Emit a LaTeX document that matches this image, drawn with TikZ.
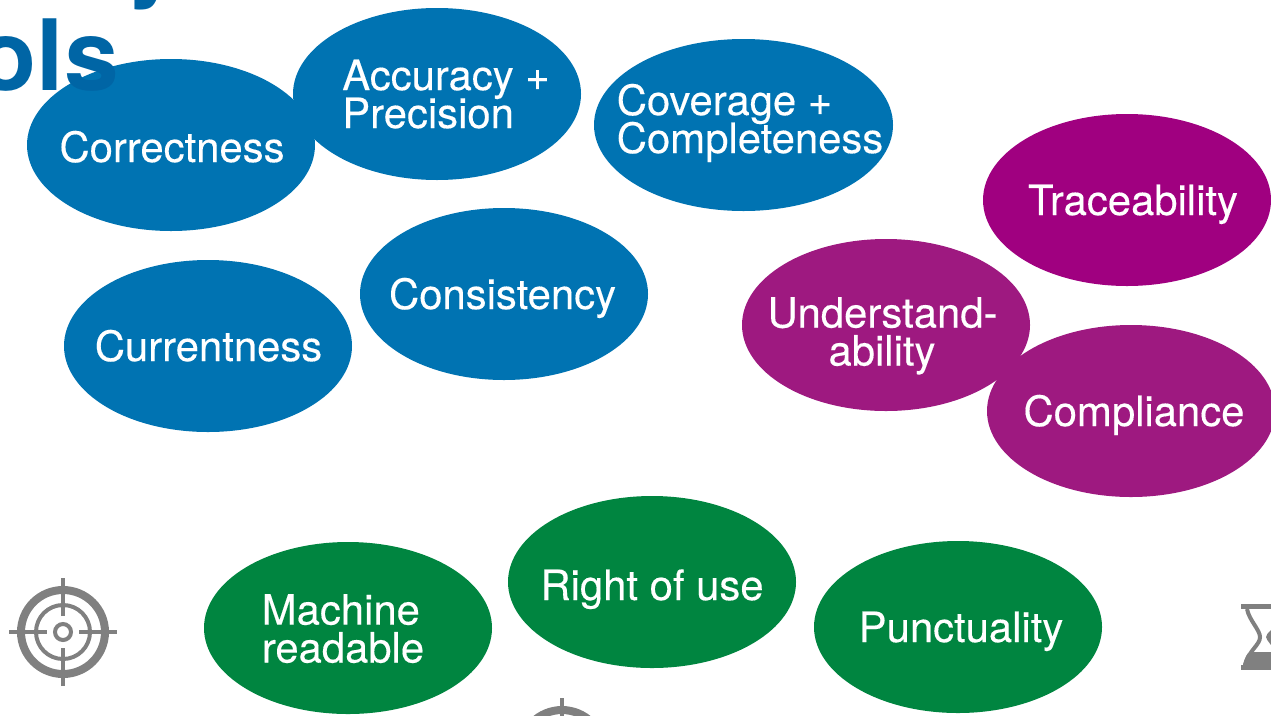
\documentclass[tikz,border=0pt]{standalone}
\usepackage{fontspec}
\setmainfont{TeX Gyre Heros}
\newfontfamily\goalfont[FakeBold=0.25]{TeX Gyre Heros}
\usetikzlibrary{shapes.geometric}
\definecolor{goalblue}{RGB}{0,115,178}
\definecolor{titleblue}{RGB}{0,101,165}
\definecolor{goalpurple}{RGB}{158,25,128}
\definecolor{tracepurple}{RGB}{160,0,128}
\definecolor{goalgreen}{RGB}{0,133,64}
\definecolor{icongrey}{RGB}{128,128,128}
\newcommand{\goaltextstyle}{\goalfont\fontsize{11.9}{10.8}\selectfont\lineskiplimit=-10pt\relax}
\tikzset{
  goal/.style={ellipse,minimum width=2.88cm,minimum height=1.72cm,inner xsep=-0.6cm,inner ysep=0pt,
    text=white,align=left,text height=0.3cm,text depth=0pt,font=\goaltextstyle},
  twolines/.style={text height=0.56cm},
  titletext/.style={anchor=base west,inner sep=0pt,text=titleblue,font=\fontsize{28}{28}\selectfont\bfseries},
  target/.pic={
    \draw[icongrey,line width=0.08cm] (0,0) circle (0.42);
    \draw[icongrey,line width=0.04cm] (0,0) circle (0.27);
    \draw[icongrey,line width=0.04cm] (0,0) circle (0.08);
    \draw[icongrey,line width=0.04cm] (-0.54,0) -- (-0.16,0);
    \draw[icongrey,line width=0.04cm] (0.16,0) -- (0.54,0);
    \draw[icongrey,line width=0.04cm] (0,-0.54) -- (0,-0.16);
    \draw[icongrey,line width=0.04cm] (0,0.16) -- (0,0.54);
  }
}
\begin{document}
\begin{tikzpicture}
\clip (0,0) rectangle (12.71,7.15);
% blue
\node[goal,text height=0.34cm,fill=goalblue] (correctness) at (1.71,5.70) {\hspace*{0.02cm}Correctness};
\node[goal,text height=0.68cm,fill=goalblue] (accuracy) at (4.37,6.21) {\hspace*{0.18cm}Accuracy +\\\hspace*{0.18cm}Precision};
\node[goal,twolines,minimum width=2.99cm,fill=goalblue] (coverage) at (7.435,5.90) {\hspace*{0.13cm}Coverage +\\\hspace*{0.13cm}Completeness};
\node[goal,fill=goalblue] (currentness) at (2.08,3.69) {\hspace*{0.01cm}Currentness};
\node[goal,fill=goalblue] (consistency) at (5.04,4.21) {Consistency\hspace*{0.03cm}};
% purple
\node[goal,fill=tracepurple] (traceability) at (11.27,5.15) {\hspace*{0.12cm}Traceability};
\node[goal,fill=goalpurple] (compliance) at (11.31,3.04) {\hspace*{0.06cm}Compliance};
\node[goal,text height=0.81cm,fill=goalpurple,align=center] (understand) at (8.86,3.90) {Understand-\hspace*{0.07cm}\\ability\hspace*{0.08cm}};
% green
\node[goal,text height=0.69cm,fill=goalgreen] (machine) at (3.48,0.87) {Machine\\readable\hspace*{0.1cm}};
\node[goal,text height=0.36cm,fill=goalgreen] (rightofuse) at (6.52,1.33) {Right of use};
\node[goal,fill=goalgreen] (punctuality) at (9.58,0.88) {\hspace*{0.06cm}Punctuality};
% title
\node[titletext] (titleend) at (-0.24,6.25) {ols};
\node[titletext] (titleline) at (1.26,7.27) {y};
% icons
\pic at (0.63,0.83) {target};
\pic at (5.62,-0.37) {target};
\fill[icongrey] (12.41,1.11) rectangle (12.71,1.06);
\fill[icongrey] (12.41,0.45) rectangle (12.71,0.50);
\draw[icongrey,line width=0.04cm] (12.47,1.06) .. controls (12.49,0.95) and (12.60,0.85) .. (12.60,0.78)
.. controls (12.60,0.70) and (12.49,0.65) .. (12.45,0.50);
\fill[icongrey] (12.43,0.50) .. controls (12.45,0.58) and (12.47,0.62) .. (12.50,0.63) -- (12.71,0.63) -- (12.71,0.50) -- cycle;
\fill[icongrey] (12.71,0.85) .. controls (12.68,0.82) and (12.66,0.80) .. (12.66,0.78) .. controls (12.66,0.76) and (12.68,0.74) .. (12.71,0.70) -- cycle;
\end{tikzpicture}
\end{document}
